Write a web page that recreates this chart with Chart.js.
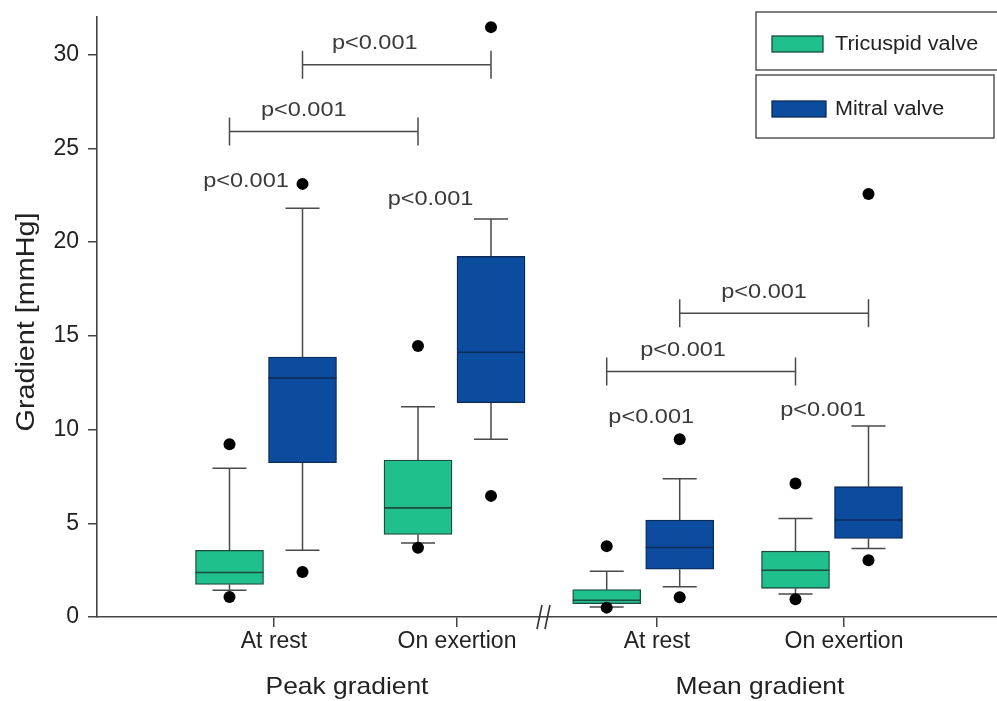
<!DOCTYPE html>
<html>
<head>
<meta charset="utf-8">
<title>Gradient box plot</title>
<script src="https://cdn.jsdelivr.net/npm/chart.js@4.4.1/dist/chart.umd.min.js"></script>
<style>
  html, body { margin: 0; padding: 0; background: #fff; }
</style>
</head>
<body>
<canvas id="boxChart" width="997" height="701"></canvas>
<script>
const categories = ["At rest", "On exertion", "At rest", "On exertion"];
const groups = ["Peak gradient", "Mean gradient"];
const seriesNames = ["Tricuspid valve", "Mitral valve"];
const yTicks = [0, 5, 10, 15, 20, 25, 30];

// [whisker low, q1, median, q3, whisker high] per category
const tricuspidStats = [
  [1.43, 1.74, 2.37, 3.56, 7.93],
  [3.95, 4.40, 5.82, 8.37, 11.22],
  [0.53, 0.71, 0.89, 1.46, 2.44],
  [1.23, 1.53, 2.49, 3.51, 5.26]
];
const mitralStats = [
  [3.56, 8.23, 12.75, 13.86, 21.8],
  [9.48, 11.43, 14.12, 19.23, 21.23],
  [1.62, 2.55, 3.71, 5.17, 7.37],
  [3.65, 4.19, 5.17, 6.95, 10.19]
];
const tricuspidOutliers = [[9.21, 1.07], [14.45, 3.69], [3.78, 0.5], [7.12, 0.95]];
const mitralOutliers = [[23.1, 2.4], [31.46, 6.46], [9.48, 1.05], [22.56, 3.03]];

// rest vs exertion comparisons: [series, from category, to category, p]
const brackets = [
  [0, 0, 1, "p<0.001"],
  [1, 0, 1, "p<0.001"],
  [0, 2, 3, "p<0.001"],
  [1, 2, 3, "p<0.001"]
];
// tricuspid vs mitral in each category
const pairPValues = ["p<0.001", "p<0.001", "p<0.001", "p<0.001"];

// ---- layout (x axis runs 0..9, 100px per unit) ----
const catCenters = [1.69, 3.575, 5.462, 7.35];
const catTicks = [1.77, 3.6, 5.6, 7.47];
const pairOffset = 0.365;
const bracketY = [25.9, 29.46, 13.1, 16.2];
const bracketTextDx = [-0.2, -0.22, -0.18, -0.1];
const pairLabelY = [23.25, 22.3, 10.63, 11.04];
const pairLabelDx = [-0.2, -0.24, 0.08, -0.09];
const groupCenters = [2.5, 6.63];
const breakAt = 4.46;

const colors = ["#1fbf8e", "#0b4c9f"];
const borders = ["#1d4a3c", "#0d2a55"];
const statsBySeries = [tricuspidStats, mitralStats];
const outliersBySeries = [tricuspidOutliers, mitralOutliers];

const xOf = (s, i) => catCenters[i] + (s === 0 ? -pairOffset : pairOffset);

const boxDatasets = statsBySeries.map((stats, s) => ({
  type: "bar",
  label: seriesNames[s],
  data: stats.map((st, i) => ({ x: xOf(s, i), y: [st[1], st[3]] })),
  backgroundColor: colors[s],
  borderColor: borders[s],
  borderWidth: 1.3,
  borderSkipped: false,
  barThickness: 68,
  grouped: false,
  order: 2
}));

const outlierData = [];
outliersBySeries.forEach((list, s) => {
  list.forEach((vals, i) => {
    vals.forEach((v) => outlierData.push({ x: xOf(s, i), y: v }));
  });
});

const outlierDataset = {
  type: "scatter",
  label: "outliers",
  data: outlierData,
  pointRadius: 6,
  pointBackgroundColor: "#000",
  pointBorderColor: "#000",
  pointBorderWidth: 0,
  clip: false,
  order: 1
};

const FONT = "'Liberation Sans', Arial, sans-serif";

const boxExtras = {
  id: "boxExtras",
  beforeDatasetsDraw(chart) {
    const { ctx, scales: { x, y } } = chart;
    ctx.save();
    ctx.strokeStyle = "#4a4a4a";
    ctx.lineWidth = 1.5;
    statsBySeries.forEach((stats, s) => {
      stats.forEach((st, i) => {
        const cx = x.getPixelForValue(xOf(s, i));
        const hw = x.getPixelForValue(xOf(s, i) + 0.17) - cx;
        ctx.beginPath();
        ctx.moveTo(cx, y.getPixelForValue(st[3]));
        ctx.lineTo(cx, y.getPixelForValue(st[4]));
        ctx.moveTo(cx - hw, y.getPixelForValue(st[4]));
        ctx.lineTo(cx + hw, y.getPixelForValue(st[4]));
        ctx.moveTo(cx, y.getPixelForValue(st[1]));
        ctx.lineTo(cx, y.getPixelForValue(st[0]));
        ctx.moveTo(cx - hw, y.getPixelForValue(st[0]));
        ctx.lineTo(cx + hw, y.getPixelForValue(st[0]));
        ctx.stroke();
      });
    });
    ctx.restore();
  },
  afterDatasetsDraw(chart) {
    const { ctx, scales: { x, y } } = chart;
    ctx.save();
    // medians
    ctx.lineWidth = 1.6;
    statsBySeries.forEach((stats, s) => {
      ctx.strokeStyle = borders[s];
      stats.forEach((st, i) => {
        const l = x.getPixelForValue(xOf(s, i) - 0.34);
        const r = x.getPixelForValue(xOf(s, i) + 0.34);
        const py = y.getPixelForValue(st[2]);
        ctx.beginPath();
        ctx.moveTo(l, py);
        ctx.lineTo(r, py);
        ctx.stroke();
      });
    });

    // brackets
    ctx.strokeStyle = "#4a4a4a";
    ctx.lineWidth = 1.5;
    ctx.fillStyle = "#3a3a3a";
    ctx.font = "21px " + FONT;
    ctx.textAlign = "center";
    ctx.textBaseline = "middle";
    brackets.forEach((b, k) => {
      const x1 = x.getPixelForValue(xOf(b[0], b[1]));
      const x2 = x.getPixelForValue(xOf(b[0], b[2]));
      const py = y.getPixelForValue(bracketY[k]);
      ctx.beginPath();
      ctx.moveTo(x1, py); ctx.lineTo(x2, py);
      ctx.moveTo(x1, py - 14); ctx.lineTo(x1, py + 14);
      ctx.moveTo(x2, py - 14); ctx.lineTo(x2, py + 14);
      ctx.stroke();
      const tx = x.getPixelForValue((xOf(b[0], b[1]) + xOf(b[0], b[2])) / 2 + bracketTextDx[k]);
      ctx.save();
      ctx.translate(tx, py - 21);
      ctx.scale(1.12, 1);
      ctx.fillText(b[3], 0, 0);
      ctx.restore();
    });

    // tricuspid vs mitral labels
    pairPValues.forEach((p, i) => {
      const tx = x.getPixelForValue(catCenters[i] + pairLabelDx[i]);
      const ty = y.getPixelForValue(pairLabelY[i]);
      ctx.save();
      ctx.translate(tx, ty);
      ctx.scale(1.12, 1);
      ctx.fillText(p, 0, 0);
      ctx.restore();
    });

    // axis break
    const bx = x.getPixelForValue(breakAt);
    const by = y.getPixelForValue(0);
    ctx.strokeStyle = "#333";
    ctx.lineWidth = 1.6;
    ctx.beginPath();
    ctx.moveTo(bx - 6, by + 12); ctx.lineTo(bx - 1, by - 12);
    ctx.moveTo(bx + 2, by + 12); ctx.lineTo(bx + 7, by - 12);
    ctx.stroke();

    // group labels
    ctx.fillStyle = "#222";
    ctx.font = "24px " + FONT;
    groups.forEach((g, i) => {
      ctx.save();
      ctx.translate(x.getPixelForValue(groupCenters[i]), 687);
      ctx.scale(1.1, 1);
      ctx.fillText(g, 0, 0);
      ctx.restore();
    });

    // y axis title
    ctx.save();
    ctx.translate(27, 322);
    ctx.rotate(-Math.PI / 2);
    ctx.font = "25px " + FONT;
    ctx.scale(1.15, 1);
    ctx.fillText("Gradient [mmHg]", 0, 0);
    ctx.restore();

    // legend boxes
    const legendBoxes = [[756, 12, 244, 58], [756, 75, 238, 63]];
    const swatches = [[772, 36, 51, 16], [772, 101, 54, 16]];
    ctx.textAlign = "left";
    ctx.font = "20px " + FONT;
    seriesNames.forEach((name, s) => {
      const b = legendBoxes[s];
      ctx.strokeStyle = "#555";
      ctx.lineWidth = 1.5;
      ctx.strokeRect(b[0], b[1], b[2], b[3]);
      const w = swatches[s];
      ctx.fillStyle = colors[s];
      ctx.fillRect(w[0], w[1], w[2], w[3]);
      ctx.strokeStyle = borders[s];
      ctx.lineWidth = 1.3;
      ctx.strokeRect(w[0], w[1], w[2], w[3]);
      ctx.fillStyle = "#222";
      ctx.save();
      ctx.translate(835, w[1] + w[3] / 2);
      ctx.scale(1.08, 1);
      ctx.fillText(name, 0, 0);
      ctx.restore();
    });
    ctx.restore();
  }
};

new Chart(document.getElementById("boxChart"), {
  data: { datasets: [...boxDatasets, outlierDataset] },
  options: {
    responsive: false,
    animation: false,
    devicePixelRatio: 1,
    layout: { autoPadding: false, padding: { top: 17, right: 0, left: 0, bottom: 0 } },
    plugins: { legend: { display: false }, tooltip: { enabled: false } },
    scales: {
      x: {
        type: "linear",
        min: 0,
        max: 9,
        offset: false,
        afterFit: (s) => { s.height = 84; s.paddingLeft = 0; s.paddingRight = 0; },
        afterBuildTicks: (s) => { s.ticks = catTicks.map((v) => ({ value: v })); },
        ticks: {
          callback: (v, i) => categories[i],
          font: { size: 23, family: FONT },
          color: "#222",
          padding: 1,
          maxRotation: 0,
          autoSkip: false
        },
        grid: { drawOnChartArea: false, offset: false, tickLength: 10, color: "#444", lineWidth: 1.5 },
        border: { color: "#444", width: 1.6 }
      },
      y: {
        type: "linear",
        min: 0,
        max: 32,
        afterFit: (s) => { s.width = 97; s.paddingTop = 0; s.paddingBottom = 0; },
        afterBuildTicks: (s) => { s.ticks = yTicks.map((v) => ({ value: v })); },
        ticks: {
          font: { size: 23, family: FONT },
          color: "#222",
          padding: 9
        },
        grid: { drawOnChartArea: false, tickLength: 9, color: "#444", lineWidth: 1.5 },
        border: { color: "#444", width: 1.6 }
      }
    }
  },
  plugins: [boxExtras]
});
</script>
</body>
</html>
